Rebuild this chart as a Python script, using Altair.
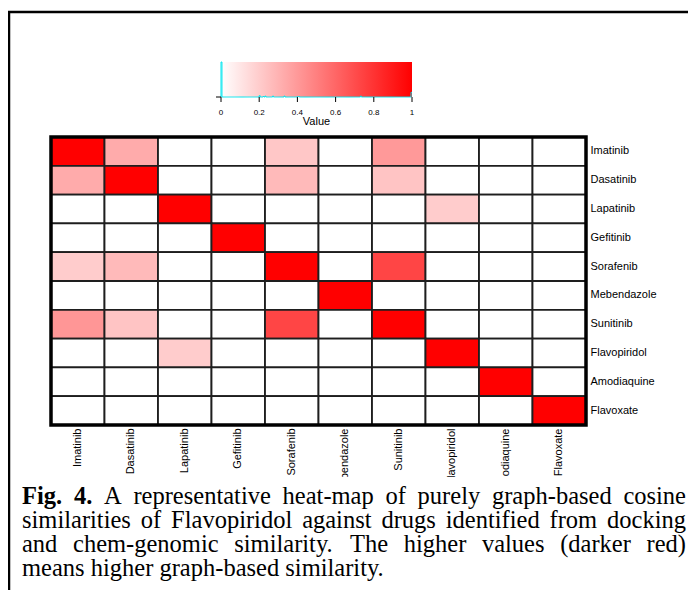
import altair as alt
import numpy as np
import pandas as pd

# ---------------- data ----------------
drugs = ["Imatinib", "Dasatinib", "Lapatinib", "Gefitinib", "Sorafenib",
         "Mebendazole", "Sunitinib", "Flavopiridol", "Amodiaquine", "Flavoxate"]

# rows top->bottom, columns left->right (same drug order)
similarity = [
    [1.00, 0.33, 0.00, 0.00, 0.22, 0.00, 0.40, 0.00, 0.00, 0.00],
    [0.33, 1.00, 0.00, 0.00, 0.27, 0.00, 0.23, 0.00, 0.00, 0.00],
    [0.00, 0.00, 1.00, 0.00, 0.00, 0.00, 0.00, 0.20, 0.00, 0.00],
    [0.00, 0.00, 0.00, 1.00, 0.00, 0.00, 0.00, 0.00, 0.00, 0.00],
    [0.20, 0.27, 0.00, 0.00, 1.00, 0.00, 0.73, 0.00, 0.00, 0.00],
    [0.00, 0.00, 0.00, 0.00, 0.00, 1.00, 0.00, 0.00, 0.00, 0.00],
    [0.41, 0.23, 0.00, 0.00, 0.73, 0.00, 1.00, 0.00, 0.00, 0.00],
    [0.00, 0.00, 0.20, 0.00, 0.00, 0.00, 0.00, 1.00, 0.00, 0.00],
    [0.00, 0.00, 0.00, 0.00, 0.00, 0.00, 0.00, 0.00, 1.00, 0.00],
    [0.00, 0.00, 0.00, 0.00, 0.00, 0.00, 0.00, 0.00, 0.00, 1.00],
]

key_ticks = [0, 0.2, 0.4, 0.6, 0.8, 1]
key_tick_labels = ["0", "0.2", "0.4", "0.6", "0.8", "1"]
key_title = "Value"

caption_lines = [
    "Fig. 4. A representative heat-map of purely graph-based cosine",
    "similarities of Flavopiridol against drugs identified from docking",
    "and chem-genomic similarity. The higher values (darker red)",
    "means higher graph-based similarity.",
]

# ---------------- tables ----------------
cells = pd.DataFrame(
    [{"row": r, "col": c, "value": similarity[i][j]}
     for i, r in enumerate(drugs) for j, c in enumerate(drugs)]
)

flat = np.array(similarity).ravel()
counts, edges = np.histogram(flat, bins=200, range=(0, 1))
hist = pd.DataFrame({
    "edge": np.concatenate([[0.0], edges[:-1], [1.0]]),
    "count": np.concatenate([[0], counts, [counts[-1]]]),
})
ticks_df = pd.DataFrame({"t": key_ticks, "lab": key_tick_labels})

# ---------------- caption layout (justified, Times metrics) ----------------
TIMES = {" ": 250, "(": 333, ")": 333, "-": 333, ".": 250, ",": 250, "4": 500,
         "A": 722, "F": 556, "T": 611,
         "a": 444, "b": 500, "c": 444, "d": 500, "e": 444, "f": 333, "g": 500,
         "h": 500, "i": 278, "j": 278, "k": 500, "l": 278, "m": 778, "n": 500,
         "o": 500, "p": 500, "q": 500, "r": 333, "s": 389, "t": 278, "u": 500,
         "v": 500, "w": 722, "x": 500, "y": 500, "z": 444}
TIMES_BOLD = {"F": 611, "i": 278, "g": 500, ".": 250, "4": 500, " ": 250}

FS = 24.5
X0, X1 = -29, 635
BASE_Y = [367, 391, 415, 439]


def wlen(word, bold):
    tab = TIMES_BOLD if bold else TIMES
    return sum(tab.get(ch, 500) for ch in word) * FS / 1000.0


cap_rows = []
for i, line in enumerate(caption_lines):
    words = line.split(" ")
    bold = [i == 0 and j < 2 for j in range(len(words))]
    widths = [wlen(w, b) for w, b in zip(words, bold)]
    if i < len(caption_lines) - 1:
        gap = (X1 - X0 - sum(widths)) / (len(words) - 1)
    else:
        gap = 250 * FS / 1000.0
    x = X0
    for w, b, wd in zip(words, bold, widths):
        cap_rows.append({"word": w, "px": x, "py": BASE_Y[i], "bold": b})
        x += wd + gap
cap = pd.DataFrame(cap_rows)

# ---------------- chart ----------------
dummy = pd.DataFrame({"a": [0]})
key_x = alt.Scale(domain=[0, 1], range=[170, 361], nice=False, zero=False)

heat = alt.Chart(cells).mark_rect(stroke="#1e1e1e", strokeWidth=1.8, opacity=1).encode(
    x=alt.X("col:N", sort=drugs, scale=alt.Scale(paddingInner=0, paddingOuter=0),
            axis=alt.Axis(title=None, labelAngle=-90, ticks=False, domain=False,
                          labelPadding=3, labelFontSize=11, labelFont="Liberation Sans",
                          labelColor="black", labelLimit=200, zindex=0)),
    y=alt.Y("row:N", sort=drugs, scale=alt.Scale(paddingInner=0, paddingOuter=0),
            axis=alt.Axis(title=None, orient="right", ticks=False, domain=False,
                          labelPadding=4, labelFontSize=11, labelFont="Liberation Sans",
                          labelColor="black", labelLimit=200, zindex=0)),
    fill=alt.Fill("value:Q",
                  scale=alt.Scale(type="linear", domain=[0, 1],
                                  range=["#ffffff", "#ff0000"], interpolate="rgb",
                                  zero=False, nice=False),
                  legend=None),
)

frame = alt.Chart(dummy).mark_rect(filled=False, stroke="black", strokeWidth=3.5).encode(
    x=alt.value(0), x2=alt.value(535), y=alt.value(0), y2=alt.value(288))

key_bar = alt.Chart(pd.DataFrame({"lo": [0.0], "hi": [1.0]})).mark_rect(
    color=alt.Gradient(gradient="linear",
                       stops=[alt.GradientStop(color="#ffffff", offset=0),
                              alt.GradientStop(color="#ff0000", offset=1)],
                       x1=0, x2=1, y1=0, y2=0)
).encode(x=alt.X("lo:Q", scale=key_x, axis=None), x2="hi:Q",
         y=alt.value(-75), y2=alt.value(-40))

key_hist = alt.Chart(hist).mark_line(interpolate="step-after", color="#00e5ee",
                                     strokeWidth=1).encode(
    x=alt.X("edge:Q", scale=key_x, axis=None),
    y=alt.Y("count:Q", scale=alt.Scale(domain=[0, int(counts.max())], range=[-40, -75],
                                       nice=False, zero=True), axis=None),
)

key_tick_marks = alt.Chart(ticks_df).mark_rule(color="black", strokeWidth=1).encode(
    x=alt.X("t:Q", scale=key_x, axis=None), y=alt.value(-40), y2=alt.value(-35))

key_labels = alt.Chart(ticks_df).mark_text(font="Liberation Sans", fontSize=8,
                                           color="black", baseline="middle").encode(
    x=alt.X("t:Q", scale=key_x, axis=None), y=alt.value(-24), text="lab:N")

key_name = alt.Chart(dummy).mark_text(text=key_title, font="Liberation Sans", fontSize=11,
                                      color="black", baseline="middle").encode(
    x=alt.value(265.5), y=alt.value(-15))

key_ytick = alt.Chart(dummy).mark_rule(color="black", strokeWidth=1).encode(
    x=alt.value(165), x2=alt.value(170), y=alt.value(-40))

mask = alt.Chart(dummy).mark_rect(color="white").encode(
    x=alt.value(-38), x2=alt.value(636), y=alt.value(340), y2=alt.value(364))

cap_bold = alt.Chart(cap).transform_filter("datum.bold").mark_text(
    font="Liberation Serif", fontSize=FS, fontWeight="bold", color="black",
    align="left", baseline="alphabetic").encode(
    x=alt.X("px:Q", scale=None), y=alt.Y("py:Q", scale=None), text="word:N")

cap_norm = alt.Chart(cap).transform_filter("!datum.bold").mark_text(
    font="Liberation Serif", fontSize=FS, fontWeight="normal", color="black",
    align="left", baseline="alphabetic").encode(
    x=alt.X("px:Q", scale=None), y=alt.Y("py:Q", scale=None), text="word:N")

box_top = alt.Chart(dummy).mark_rule(color="black", strokeWidth=2.5).encode(
    x=alt.value(-43), x2=alt.value(645), y=alt.value(-125))
box_left = alt.Chart(dummy).mark_rule(color="black", strokeWidth=2.5).encode(
    x=alt.value(-42), y=alt.value(-126), y2=alt.value(470))

chart = alt.layer(
    heat, frame, key_bar, key_hist, key_tick_marks, key_labels, key_name, key_ytick,
    mask, cap_bold, cap_norm, box_top, box_left
).resolve_scale(
    x="independent", y="independent", fill="independent"
).properties(
    width=535, height=288,
    autosize=alt.AutoSizeParams(type="none"),
    padding={"left": 43, "top": 129, "right": 102, "bottom": 165},
    background="white",
).configure_view(stroke=None)

chart.save("out.html", embed_options={"renderer": "svg", "actions": False})
